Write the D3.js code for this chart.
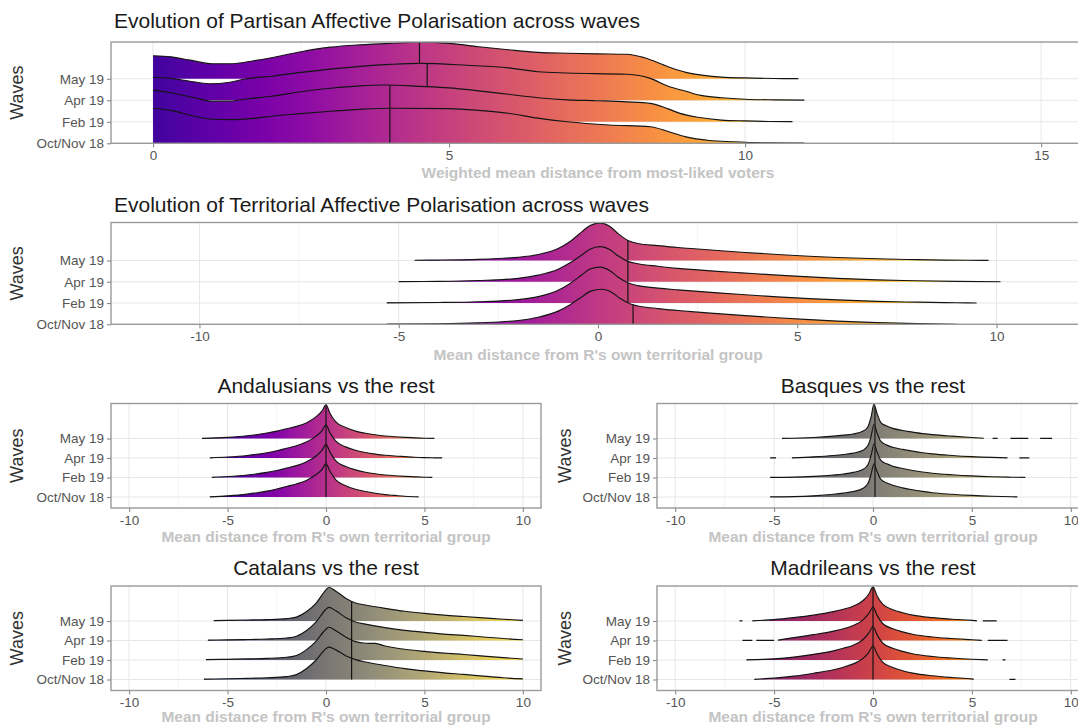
<!DOCTYPE html>
<html><head><meta charset="utf-8">
<script src="https://cdn.jsdelivr.net/npm/d3@7/dist/d3.min.js"></script>
<style>body{margin:0;background:#fff}svg{display:block}</style>
</head><body><svg id="c" width="1078" height="726"></svg>
<script>
const FONT = '"Liberation Sans", Arial, Helvetica, sans-serif';
const waves = ["Oct/Nov 18", "Feb 19", "Apr 19", "May 19"];

// ---------- Partisan affective polarisation (ridge heights in row units) ----------
const partisanTicks = [0, 5, 10, 15];
const partMay = [[0,1.07],[0.3,1.02],[0.6,0.88],[1.0,0.7],[1.3,0.7],[1.7,0.84],[2.0,0.98],[2.5,1.26],[3.0,1.47],[3.5,1.58],[4.0,1.65],[4.5,1.7],[5.0,1.65],[5.5,1.49],[6.0,1.35],[6.5,1.23],[7.0,1.19],[7.5,1.16],[8.0,1.14],[8.3,0.98],[8.7,0.56],[9.0,0.3],[9.3,0.16],[9.6,0.08],[10.0,0.04],[10.5,0.015],[10.9,0.005]];
const partApr = [[0,1.07],[0.3,1.02],[0.6,0.9],[0.95,0.77],[1.3,0.84],[1.55,0.99],[2.0,1.12],[2.5,1.3],[3.5,1.58],[4.0,1.67],[4.5,1.72],[5.3,1.63],[6.0,1.51],[6.5,1.33],[7.0,1.27],[8.0,1.21],[8.4,1.02],[8.7,0.65],[9.0,0.42],[9.25,0.23],[9.6,0.12],[10.0,0.05],[10.5,0.02],[11.0,0.005]];
const partFeb = [[0,1.47],[0.3,1.35],[0.7,1.12],[1.0,0.96],[1.3,0.96],[1.6,1.07],[2.0,1.19],[2.5,1.4],[3.0,1.56],[3.5,1.67],[3.9,1.71],[4.5,1.65],[5.0,1.58],[5.5,1.44],[6.0,1.28],[6.5,1.12],[7.0,1.02],[7.5,0.98],[8.0,0.93],[8.4,0.86],[8.7,0.6],[8.9,0.39],[9.2,0.21],[9.6,0.08],[10.0,0.04],[10.4,0.015],[10.8,0.005]];
const partOct = [[0,1.63],[0.3,1.53],[0.7,1.26],[1.0,1.12],[1.3,1.1],[1.7,1.16],[2.0,1.26],[2.5,1.38],[3.0,1.49],[3.5,1.58],[4.0,1.63],[5.0,1.61],[5.5,1.53],[6.0,1.4],[6.5,1.17],[7.0,1.0],[7.7,0.85],[8.4,0.77],[8.7,0.55],[9.0,0.3],[9.4,0.13],[9.8,0.07],[10.3,0.023],[11.0,0.005]];
const partMedians = [4.0, 4.0, 4.63, 4.5]; // Oct, Feb, Apr, May

// ---------- Territorial affective polarisation ----------
const territorialTicks = [-10, -5, 0, 5, 10];
const terrMay = [[-4.6,0.01],[-4,0.02],[-3,0.056],[-2.5,0.094],[-2,0.15],[-1.5,0.28],[-1,0.56],[-0.7,0.89],[-0.4,1.36],[-0.2,1.65],[0.05,1.76],[0.3,1.6],[0.5,1.27],[0.75,0.94],[1.0,0.8],[1.5,0.7],[2.0,0.61],[2.5,0.54],[3.0,0.47],[3.6,0.39],[4.5,0.28],[5.3,0.2],[6.0,0.14],[7.0,0.08],[8.0,0.04],[8.7,0.02],[9.3,0.01],[9.8,0.003]];
const terrApr = [[-5.0,0.01],[-4,0.02],[-3,0.06],[-2,0.16],[-1.5,0.31],[-1,0.59],[-0.7,0.89],[-0.4,1.27],[-0.2,1.53],[0.05,1.65],[0.3,1.5],[0.5,1.22],[0.75,0.96],[1.0,0.85],[1.5,0.73],[2.0,0.63],[2.5,0.56],[3.0,0.49],[3.6,0.42],[4.5,0.31],[5.3,0.23],[6.0,0.16],[7.0,0.09],[8.0,0.05],[9.0,0.02],[10.1,0.003]];
const terrFeb = [[-5.3,0.01],[-4,0.025],[-3,0.06],[-2,0.16],[-1.5,0.3],[-1,0.6],[-0.7,0.92],[-0.4,1.33],[-0.2,1.6],[0.05,1.69],[0.3,1.52],[0.5,1.22],[0.75,0.95],[1.0,0.82],[1.5,0.7],[2.0,0.62],[2.5,0.55],[3.0,0.48],[3.6,0.4],[4.5,0.29],[5.3,0.21],[6.0,0.15],[7.0,0.08],[8.0,0.04],[9.0,0.015],[9.5,0.003]];
const terrOct = [[-5.3,0.01],[-4,0.025],[-3,0.07],[-2,0.18],[-1.5,0.33],[-1,0.62],[-0.7,0.92],[-0.4,1.3],[-0.2,1.55],[0.1,1.65],[0.35,1.5],[0.55,1.22],[0.8,0.97],[1.0,0.86],[1.5,0.74],[2.0,0.65],[2.5,0.57],[3.0,0.5],[3.6,0.42],[4.5,0.31],[5.3,0.22],[6.0,0.15],[7.0,0.08],[8.0,0.035],[9.0,0.003]];
const terrMedians = [0.88, 0.75, 0.75, 0.75];

// ---------- Regional panels ----------
const regionTicks = [-10, -5, 0, 5, 10];
const andMay = [[-6.3,0.01],[-5,0.06],[-4,0.14],[-3,0.28],[-2.5,0.38],[-2,0.5],[-1.5,0.62],[-1,0.8],[-0.5,1.12],[-0.2,1.42],[0,1.73],[0.2,1.3],[0.5,0.85],[1,0.56],[1.5,0.38],[2,0.27],[2.5,0.19],[3,0.13],[3.5,0.09],[4,0.06],[4.5,0.035],[5,0.015],[5.5,0.005]];
const andApr = [[-5.9,0.01],[-5,0.05],[-4,0.13],[-3,0.27],[-2.5,0.37],[-2,0.5],[-1.5,0.63],[-1,0.82],[-0.5,1.12],[-0.2,1.4],[0,1.7],[0.2,1.3],[0.5,0.86],[1,0.57],[1.5,0.4],[2,0.28],[2.5,0.2],[3,0.14],[3.5,0.1],[4,0.07],[4.5,0.04],[5,0.02],[5.5,0.01],[5.9,0.004]];
const andFeb = [[-5.8,0.01],[-5,0.05],[-4,0.13],[-3,0.26],[-2.5,0.36],[-2,0.48],[-1.5,0.61],[-1,0.8],[-0.5,1.1],[-0.2,1.4],[0,1.7],[0.2,1.3],[0.5,0.85],[1,0.56],[1.5,0.39],[2,0.27],[2.5,0.19],[3,0.13],[3.5,0.09],[4,0.06],[4.5,0.035],[5,0.015],[5.4,0.005]];
const andOct = [[-5.9,0.01],[-5,0.06],[-4,0.15],[-3,0.3],[-2.5,0.41],[-2,0.54],[-1.5,0.67],[-1,0.85],[-0.5,1.15],[-0.2,1.42],[0,1.7],[0.2,1.32],[0.5,0.88],[1,0.58],[1.5,0.4],[2,0.28],[2.5,0.19],[3,0.12],[3.5,0.08],[4,0.04],[4.7,0.005]];
const andMedians = [0, 0, 0, 0];

const basMay = [[-4.6,0.01],[-3,0.05],[-2,0.12],[-1.5,0.17],[-1,0.23],[-0.5,0.38],[-0.25,0.62],[-0.1,1.1],[0.05,1.75],[0.2,1.3],[0.4,0.82],[0.7,0.64],[1,0.52],[1.5,0.41],[2,0.33],[2.5,0.25],[3,0.2],[4,0.12],[5,0.05],[5.6,0.012],[5.7,null],[6.05,0.006],[6.3,0.006],[6.35,null],[6.95,0.006],[7.85,0.006],[7.9,null],[8.45,0.005],[9.05,0.005]];
const basApr = [[-5.2,0.008],[-4.9,0.008],[-4.85,null],[-4.1,0.01],[-3,0.06],[-2,0.13],[-1.5,0.18],[-1,0.25],[-0.5,0.4],[-0.25,0.65],[-0.1,1.1],[0.05,1.72],[0.2,1.3],[0.4,0.85],[0.7,0.66],[1,0.55],[1.5,0.44],[2,0.35],[2.5,0.27],[3,0.21],[4,0.13],[5,0.07],[6,0.03],[6.8,0.01],[6.85,null],[7.4,0.006],[7.9,0.006]];
const basFeb = [[-5.2,0.008],[-4,0.02],[-3,0.06],[-2,0.13],[-1.5,0.18],[-1,0.26],[-0.5,0.42],[-0.25,0.67],[-0.1,1.12],[0.05,1.72],[0.2,1.32],[0.4,0.88],[0.7,0.7],[1,0.58],[1.5,0.46],[2,0.36],[2.5,0.28],[3,0.22],[4,0.14],[5,0.08],[6,0.04],[7,0.015],[7.7,0.005]];
const basOct = [[-5.2,0.008],[-4,0.02],[-3,0.06],[-2,0.14],[-1.5,0.2],[-1,0.28],[-0.5,0.45],[-0.25,0.7],[-0.1,1.15],[0.05,1.7],[0.2,1.32],[0.4,0.9],[0.7,0.72],[1,0.6],[1.5,0.47],[2,0.37],[2.5,0.29],[3,0.22],[4,0.14],[5,0.08],[6,0.04],[7,0.015],[7.3,0.006]];
const basMedians = [0.1, 0.1, 0.1, 0.1];

const catMay = [[-5.7,0.02],[-5,0.035],[-4,0.05],[-3,0.07],[-2,0.12],[-1.5,0.2],[-1,0.47],[-0.5,0.92],[0,1.6],[0.15,1.73],[0.5,1.53],[1,1.17],[1.5,0.92],[2,0.82],[3,0.65],[4,0.5],[5,0.39],[6,0.3],[7,0.23],[8,0.16],[9,0.09],[10,0.035]];
const catApr = [[-6.0,0.02],[-5,0.035],[-4,0.05],[-3,0.075],[-2,0.13],[-1.5,0.22],[-1,0.5],[-0.5,0.95],[0,1.6],[0.15,1.7],[0.5,1.52],[1,1.18],[1.5,0.95],[2,0.84],[3,0.66],[4,0.52],[5,0.42],[6,0.33],[7,0.26],[8,0.18],[9,0.1],[10,0.04]];
const catFeb = [[-6.1,0.02],[-5,0.035],[-4,0.055],[-3,0.08],[-2,0.14],[-1.5,0.23],[-1,0.52],[-0.5,0.97],[0,1.58],[0.15,1.68],[0.5,1.5],[1,1.18],[1.5,0.94],[2,0.86],[2.5,0.85],[3,0.72],[4,0.55],[5,0.44],[6,0.35],[7,0.28],[8,0.2],[9,0.12],[10,0.05]];
const catOct = [[-6.2,0.02],[-5,0.04],[-4,0.06],[-3,0.09],[-2,0.15],[-1.5,0.25],[-1,0.55],[-0.5,1.0],[0,1.58],[0.15,1.66],[0.5,1.52],[1,1.22],[1.5,1.02],[2,0.9],[3,0.72],[4,0.56],[5,0.44],[6,0.34],[7,0.26],[8,0.17],[9,0.09],[10,0.03]];
const catMedians = [1.3, 1.3, 1.3, 1.3];

const madMay = [[-6.75,0.005],[-6.6,0.005],[-6.55,null],[-6.1,0.01],[-5,0.07],[-4,0.17],[-3,0.3],[-2,0.48],[-1.5,0.6],[-1,0.76],[-0.5,1.05],[-0.2,1.4],[0,1.75],[0.2,1.3],[0.5,0.85],[1,0.58],[1.5,0.42],[2,0.3],[3,0.17],[4,0.09],[5,0.03],[5.25,0.01],[5.3,null],[5.55,0.008],[6.25,0.008]];
const madApr = [[-6.6,0.006],[-6.1,0.006],[-6.05,null],[-5.9,0.006],[-5.0,0.006],[-4.95,null],[-4.8,0.02],[-4,0.15],[-3,0.3],[-2,0.48],[-1.5,0.6],[-1,0.77],[-0.5,1.06],[-0.2,1.4],[0,1.72],[0.2,1.3],[0.5,0.86],[1,0.6],[1.5,0.44],[2,0.32],[3,0.18],[4,0.1],[5,0.04],[5.5,0.01],[5.55,null],[5.8,0.008],[6.8,0.008]];
const madFeb = [[-6.4,0.008],[-5,0.06],[-4,0.15],[-3,0.29],[-2,0.47],[-1.5,0.6],[-1,0.76],[-0.5,1.05],[-0.2,1.4],[0,1.72],[0.2,1.3],[0.5,0.86],[1,0.6],[1.5,0.44],[2,0.32],[3,0.18],[4,0.1],[5,0.04],[5.8,0.008],[5.85,null],[6.55,0.006],[6.7,0.006]];
const madOct = [[-6.0,0.01],[-5,0.07],[-4,0.17],[-3,0.32],[-2,0.5],[-1.5,0.63],[-1,0.8],[-0.5,1.08],[-0.2,1.42],[0,1.72],[0.2,1.32],[0.5,0.88],[1,0.62],[1.5,0.45],[2,0.33],[3,0.19],[4,0.1],[5,0.03],[5.1,0.01],[5.15,null],[6.9,0.008],[7.2,0.008]];
const madMedians = [0, 0, 0, 0];

const panelTitles = ["Evolution of Partisan Affective Polarisation across waves",
  "Evolution of Territorial Affective Polarisation across waves",
  "Andalusians vs the rest", "Basques vs the rest", "Catalans vs the rest", "Madrileans vs the rest"];
const partisanXTitle = "Weighted mean distance from most-liked voters";
const territorialXTitle = "Mean distance from R's own territorial group";
const yTitle = "Waves";

// ---------- drawing ----------
const svg = d3.select('#c');
const defs = svg.append('defs');
const clamp = t => Math.max(0, Math.min(1, t));

function heightAt(pts, xv) {
  const v = pts.filter(p => p[1] != null);
  for (let i = 1; i < v.length; i++) {
    if (v[i][0] >= xv) {
      const [x0, y0] = v[i - 1], [x1, y1] = v[i];
      return y0 + (y1 - y0) * (xv - x0) / (x1 - x0);
    }
  }
  return 0;
}

function styleAxis(sel) {
  sel.attr('font-family', null).attr('font-size', null);
  sel.select('.domain').remove();
  sel.selectAll('.tick line').attr('stroke', '#8a8a8a').attr('stroke-width', 1.1);
  sel.selectAll('.tick text').attr('fill', '#555').style('font-size', '13.5px').style('font-family', FONT);
}

function panel(c) {
  const x = d3.scaleLinear().domain(c.domain).range([c.left, c.right]);
  const y = d3.scalePoint().domain(waves).range([c.base0, c.base3]);
  const band = (c.base0 - c.base3) / 3;
  const h = d3.scaleLinear().domain([0, 1]).range([0, band]);
  const g = svg.append('g');

  defs.append('clipPath').attr('id', 'clip' + c.id).append('rect')
    .attr('x', c.left).attr('y', c.top).attr('width', c.right - c.left).attr('height', c.bottom - c.top);
  const grad = defs.append('linearGradient').attr('id', 'grad' + c.id)
    .attr('gradientUnits', 'userSpaceOnUse')
    .attr('x1', c.left).attr('x2', c.right).attr('y1', 0).attr('y2', 0);
  d3.range(0, 81).forEach(i => {
    const t = i / 80;
    grad.append('stop').attr('offset', t).attr('stop-color', c.color(x.invert(c.left + t * (c.right - c.left))));
  });

  const inner = g.append('g').attr('clip-path', `url(#clip${c.id})`);
  const minor = d3.range(c.ticks.length - 1).map(i => (c.ticks[i] + c.ticks[i + 1]) / 2);
  inner.selectAll('line.minor').data(minor).join('line').attr('class', 'minor')
    .attr('x1', d => x(d)).attr('x2', d => x(d)).attr('y1', c.top).attr('y2', c.bottom)
    .attr('stroke', '#f3f3f3').attr('stroke-width', 0.8);
  inner.selectAll('line.major').data(c.ticks).join('line').attr('class', 'major')
    .attr('x1', d => x(d)).attr('x2', d => x(d)).attr('y1', c.top).attr('y2', c.bottom)
    .attr('stroke', '#e6e6e6').attr('stroke-width', 1);
  inner.selectAll('line.hgrid').data(waves).join('line').attr('class', 'hgrid')
    .attr('x1', c.left).attr('x2', c.right).attr('y1', d => y(d)).attr('y2', d => y(d))
    .attr('stroke', '#e6e6e6').attr('stroke-width', 1);

  const defined = d => d[1] != null;
  waves.slice().reverse().forEach(w => {
    const i = waves.indexOf(w);
    const pts = c.series[i];
    const base = y(w);
    const area = d3.area().defined(defined).curve(d3.curveMonotoneX)
      .x(d => x(d[0])).y0(base).y1(d => base - h(d[1]));
    const line = d3.line().defined(defined).curve(d3.curveMonotoneX)
      .x(d => x(d[0])).y(d => base - h(d[1]));
    inner.append('path').datum(pts).attr('d', area).attr('fill', `url(#grad${c.id})`);
    inner.append('path').datum(pts).attr('d', line).attr('fill', 'none')
      .attr('stroke', '#141414').attr('stroke-width', 1.15);
    const m = c.medians[i];
    inner.append('line').attr('x1', x(m)).attr('x2', x(m)).attr('y1', base)
      .attr('y2', base - h(heightAt(pts, m))).attr('stroke', '#141414').attr('stroke-width', 1.2);
  });

  g.append('rect').attr('x', c.left).attr('y', c.top)
    .attr('width', c.right - c.left).attr('height', c.bottom - c.top)
    .attr('fill', 'none').attr('stroke', '#9a9a9a').attr('stroke-width', 1.4);

  g.append('g').attr('transform', `translate(0,${c.bottom})`)
    .call(d3.axisBottom(x).tickValues(c.ticks).tickSize(4).tickPadding(3).tickFormat(d => String(d)))
    .call(styleAxis);
  g.append('g').attr('transform', `translate(${c.left},0)`)
    .call(d3.axisLeft(y).tickSize(4).tickPadding(3))
    .call(styleAxis);

  g.append('text').text(c.title)
    .attr('x', c.titleX).attr('y', c.titleY)
    .attr('text-anchor', c.titleAnchor)
    .style('font-family', FONT).style('font-size', '21px').attr('fill', '#1a1a1a');
  g.append('text').text(c.xTitle)
    .attr('x', c.xTitleX).attr('y', c.xTitleY).attr('text-anchor', 'middle')
    .style('font-family', FONT).style('font-size', '15.5px').style('font-weight', 'bold').attr('fill', '#c4c4c4');
  g.append('text').text(yTitle)
    .attr('transform', `translate(${c.wavesX},${(c.top + c.bottom) / 2}) rotate(-90)`)
    .attr('text-anchor', 'middle').attr('dy', '0.35em')
    .style('font-family', FONT).style('font-size', '18px').attr('fill', '#333');
}

// Panel 1
panel({id: 1, left: 111, right: 1082, top: 42, bottom: 143.3, base0: 143.3, base3: 78.8,
  domain: [-0.71, 15.69], ticks: partisanTicks,
  series: [partOct, partFeb, partApr, partMay], medians: partMedians,
  color: v => d3.interpolatePlasma(clamp(0.1 + 0.075 * v)),
  title: panelTitles[0], titleX: 114, titleY: 28, titleAnchor: 'start',
  xTitle: partisanXTitle, xTitleX: 598, xTitleY: 178, wavesX: 17});

// Panel 2
panel({id: 2, left: 111, right: 1085, top: 222.5, bottom: 324.3, base0: 324.3, base3: 260.5,
  domain: [-12.22, 12.22], ticks: territorialTicks,
  series: [terrOct, terrFeb, terrApr, terrMay], medians: terrMedians,
  color: v => d3.interpolatePlasma(clamp(0.45 + 0.055 * v)),
  title: panelTitles[1], titleX: 114, titleY: 212, titleAnchor: 'start',
  xTitle: territorialXTitle, xTitleX: 598, xTitleY: 360, wavesX: 17});

const rows = [{top: 403.5, base3: 438.5, base0: 497, bottom: 508, titleY: 393, xTitleY: 542},
              {top: 586, base3: 621, base0: 679.5, bottom: 690.5, titleY: 575, xTitleY: 722}];
const cols = [{left: 111, right: 541, zero: 326, wavesX: 17},
              {left: 657, right: 1089, zero: 873, wavesX: 565}];
const regions = [
  {series: [andOct, andFeb, andApr, andMay], medians: andMedians, color: v => d3.interpolatePlasma(clamp(0.42 + 0.06 * v))},
  {series: [basOct, basFeb, basApr, basMay], medians: basMedians, color: v => d3.interpolateCividis(clamp(0.5 + 0.045 * v))},
  {series: [catOct, catFeb, catApr, catMay], medians: catMedians, color: v => d3.interpolateCividis(clamp(0.47 + 0.05 * v))},
  {series: [madOct, madFeb, madApr, madMay], medians: madMedians, color: v => d3.interpolateInferno(clamp(0.55 + 0.035 * v))}
];
regions.forEach((r, k) => {
  const row = rows[Math.floor(k / 2)], col = cols[k % 2];
  const half = 10.92;
  panel({id: 3 + k, left: col.left, right: col.right, top: row.top, bottom: row.bottom,
    base0: row.base0, base3: row.base3,
    domain: [-half, half], ticks: regionTicks,
    series: r.series, medians: r.medians, color: r.color,
    title: panelTitles[2 + k], titleX: col.zero, titleY: row.titleY, titleAnchor: 'middle',
    xTitle: territorialXTitle, xTitleX: col.zero, xTitleY: row.xTitleY, wavesX: col.wavesX});
});
</script>
</body></html>
